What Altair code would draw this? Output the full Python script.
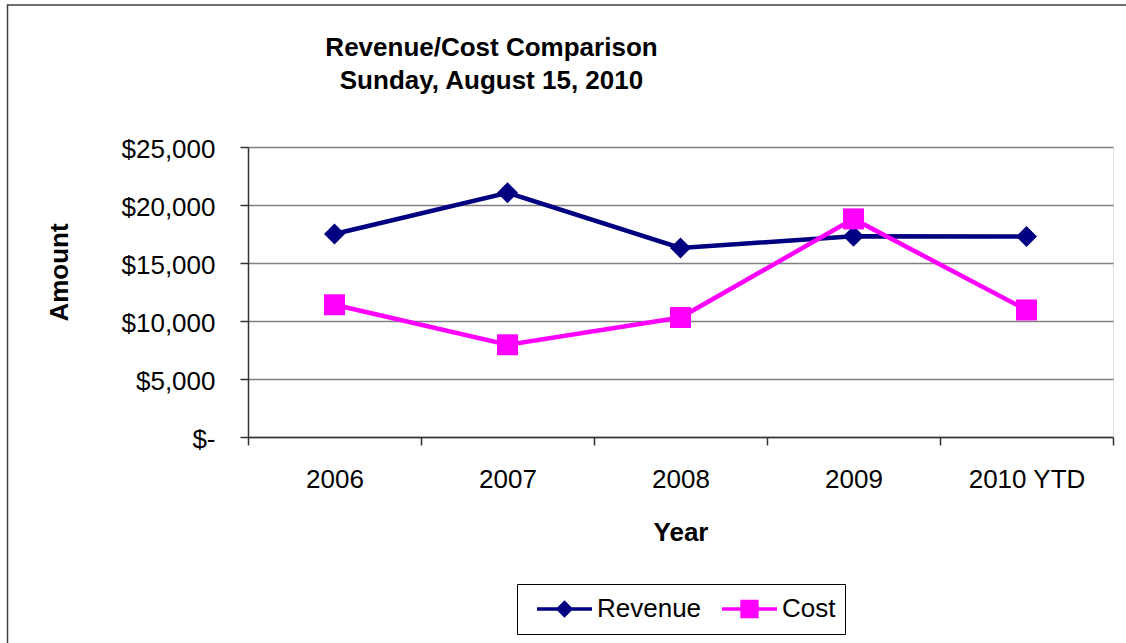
import altair as alt
import pandas as pd

years = ["2006", "2007", "2008", "2009", "2010 YTD"]
revenue = [17500, 21050, 16300, 17300, 17280]
cost = [11400, 7950, 10300, 18800, 10950]
series = ["Revenue", "Cost"]
colors = ["#000080", "#FF00FF"]
marker_shapes = ["diamond", "square"]
legend_paths = [
    "M-1,0L1,0M0,-0.23L0.23,0L0,0.23L-0.23,0Z",
    "M-1,0L1,0M-0.27,-0.27L0.27,-0.27L0.27,0.27L-0.27,0.27Z",
]
y_ticks = [0, 5000, 10000, 15000, 20000, 25000]
title_lines = ["Revenue/Cost Comparison", "Sunday, August 15, 2010"]

rows = []
for i, yr in enumerate(years):
    rows.append({"Year": yr, "Series": "Revenue", "Amount": revenue[i]})
    rows.append({"Year": yr, "Series": "Cost", "Amount": cost[i]})
df = pd.DataFrame(rows)

FONT = "Liberation Sans"
W, H = 865, 290
PL, PT = 248, 147

x_enc = alt.X(
    "Year:N",
    sort=years,
    bandPosition=0.5,
    scale=alt.Scale(type="band", paddingInner=0, paddingOuter=0),
    axis=alt.Axis(
        title="Year",
        labelAngle=0,
        tickBand="extent",
        tickSize=8,
        labelPadding=21,
        labelFontSize=26,
        labelFont=FONT,
        labelColor="black",
        titleFontSize=26,
        titleFont=FONT,
        titleFontWeight="bold",
        titleColor="black",
        titleBaseline="alphabetic",
        titleY=103,
        domainColor="#333333",
        domainWidth=1.5,
        tickColor="#333333",
        tickWidth=1.5,
        grid=False,
    ),
)
y_enc = alt.Y(
    "Amount:Q",
    scale=alt.Scale(domain=[0, 25000], nice=False),
    axis=alt.Axis(
        title="Amount",
        values=y_ticks,
        labelExpr="datum.value == 0 ? '$-\u00a0\u00a0' : '$' + format(datum.value, ',')",
        tickSize=8,
        labelPadding=25,
        labelOffset=2,
        labelFontSize=26,
        labelFont=FONT,
        labelColor="black",
        titleFontSize=26,
        titleFont=FONT,
        titleFontWeight="bold",
        titleColor="black",
        titleAngle=270,
        titleBaseline="alphabetic",
        titleAlign="center",
        titleX=-181,
        titleY=125,
        domainColor="#333333",
        domainWidth=1.5,
        tickColor="#333333",
        tickWidth=1.5,
        grid=True,
        gridColor="#808080",
        gridWidth=1.5,
    ),
)

color_scale = alt.Scale(domain=series, range=colors)

lines = alt.Chart(df).mark_line(strokeWidth=4.5).encode(
    x=x_enc,
    y=y_enc,
    color=alt.Color("Series:N", scale=color_scale, legend=None),
    detail="Series:N",
)

points = alt.Chart(df).mark_point(filled=True, size=440, opacity=1).encode(
    x=x_enc,
    y=y_enc,
    color=alt.Color("Series:N", scale=color_scale, legend=None),
    shape=alt.Shape("Series:N", scale=alt.Scale(domain=series, range=marker_shapes), legend=None),
)

leg = alt.Legend(
    orient="none",
    legendX=269,
    legendY=437,
    direction="horizontal",
    title=None,
    labelFont=FONT,
    labelFontSize=26,
    labelColor="black",
    labelOffset=3,
    strokeColor="black",
    padding=9.5,
    symbolOffset=8.5,
    columnPadding=10,
    clipHeight=31,
    symbolStrokeWidth=3.5,
    symbolSize=3025,
)

legend_layer = alt.Chart(df).mark_point(filled=True, size=3025, strokeWidth=3.5, opacity=1).encode(
    shape=alt.Shape("Series:N", scale=alt.Scale(domain=series, range=legend_paths), legend=leg),
    fill=alt.Fill("Series:N", scale=alt.Scale(domain=series, range=colors), legend=leg),
    stroke=alt.Stroke("Series:N", scale=alt.Scale(domain=series, range=colors), legend=leg),
).transform_filter("false")

frame_df = pd.DataFrame({"k": [0]})
frame = alt.Chart(frame_df).mark_rect(filled=False, stroke="#404040", strokeWidth=1.5).encode(
    x=alt.value(-240.5),
    x2=alt.value(W + 30),
    y=alt.value(-142),
    y2=alt.value(H + 230),
)

chart = alt.layer(frame, lines, points, legend_layer).resolve_scale(
    shape="independent", fill="independent", stroke="independent"
).properties(
    width=W,
    height=H,
    padding={"left": PL, "top": PT, "right": 1126 - PL - W, "bottom": 643 - PT - H},
    autosize=alt.AutoSizeParams(type="none"),
    title=alt.TitleParams(
        text=title_lines,
        font=FONT,
        fontSize=26,
        fontWeight="bold",
        color="black",
        lineHeight=33.4,
        anchor="middle",
        frame="group",
        baseline="bottom",
        dx=-189,
        offset=-116,
    ),
).configure_view(
    stroke="#808080", strokeWidth=1.5
).configure(background="white")

chart.save("out.html", embed_options={"renderer": "svg", "actions": False})
